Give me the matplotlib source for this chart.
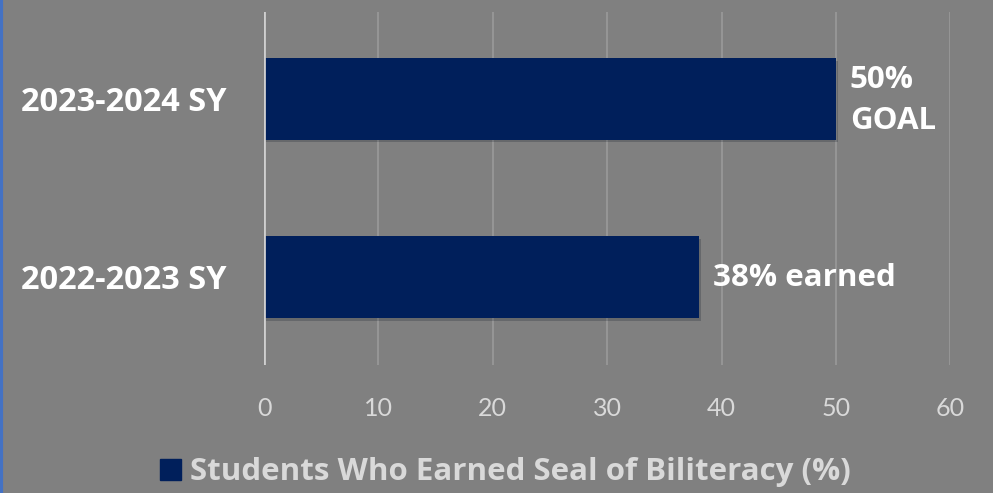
import matplotlib
matplotlib.use("Agg")
import matplotlib.pyplot as plt
import matplotlib.patheffects as pe
from matplotlib.patches import Rectangle
from matplotlib.lines import Line2D

categories = ["2022-2023 SY", "2023-2024 SY"]
values = [38, 50]
value_labels = ["38% earned", "50%\nGOAL"]
xticks = [0, 10, 20, 30, 40, 50, 60]
legend_label = "Students Who Earned Seal of Biliteracy (%)"

BG = "#808080"
BAR = "#001F5B"
BOLD_FONT = "Open Sans"
TICK_FONT = "Lato"

fig = plt.figure(figsize=(9.93, 4.93), dpi=100, facecolor=BG)
ax = fig.add_axes([0.266, 0.26, 0.691, 0.716])
ax.set_facecolor(BG)

bars = ax.barh(range(len(categories)), values, height=0.46, color=BAR, zorder=3,
               path_effects=[pe.SimplePatchShadow(offset=(1.5, -2), alpha=0.2), pe.Normal()])

ax.set_xlim(0, 60)
ax.set_ylim(-0.494, 1.488)
ax.set_xticks(xticks)
ax.set_xticklabels([str(t) for t in xticks], fontsize=18, color="#d9d9d9", family=TICK_FONT)
ax.set_yticks(range(len(categories)))
ax.set_yticklabels(categories, fontsize=23.5, fontweight="bold", color="white", family=BOLD_FONT)
ax.tick_params(axis="x", length=0, pad=23)
ax.tick_params(axis="y", length=0, pad=27)
for s in ax.spines.values():
    s.set_visible(False)
ax.grid(axis="x", color="#9a9a9a", linewidth=1.2, zorder=0)
ax.axvline(0, color="#cfcfcf", linewidth=2, zorder=4)

for i, (v, lab) in enumerate(zip(values, value_labels)):
    ax.annotate(lab, xy=(v, i), xytext=(10, -1), textcoords="offset points",
                va="center", ha="left", fontsize=22.5, fontweight="bold", color="white",
                family=BOLD_FONT, linespacing=1.48)

handle = Rectangle((0, 0), 1, 1, color=BAR)
fig.legend([handle], [legend_label], loc="center", bbox_to_anchor=(0.509, 0.042),
           frameon=False, prop={"family": BOLD_FONT, "size": 22.5, "weight": "bold"},
           labelcolor="#d9d9d9", handlelength=0.68, handleheight=0.68, handletextpad=0.3)

# blue left edge stripe
fig.add_artist(Line2D([0.0015, 0.0015], [0, 1], color="#4472C4", linewidth=3,
                      transform=fig.transFigure))

fig.savefig("out.png", dpi=100, facecolor=BG)
